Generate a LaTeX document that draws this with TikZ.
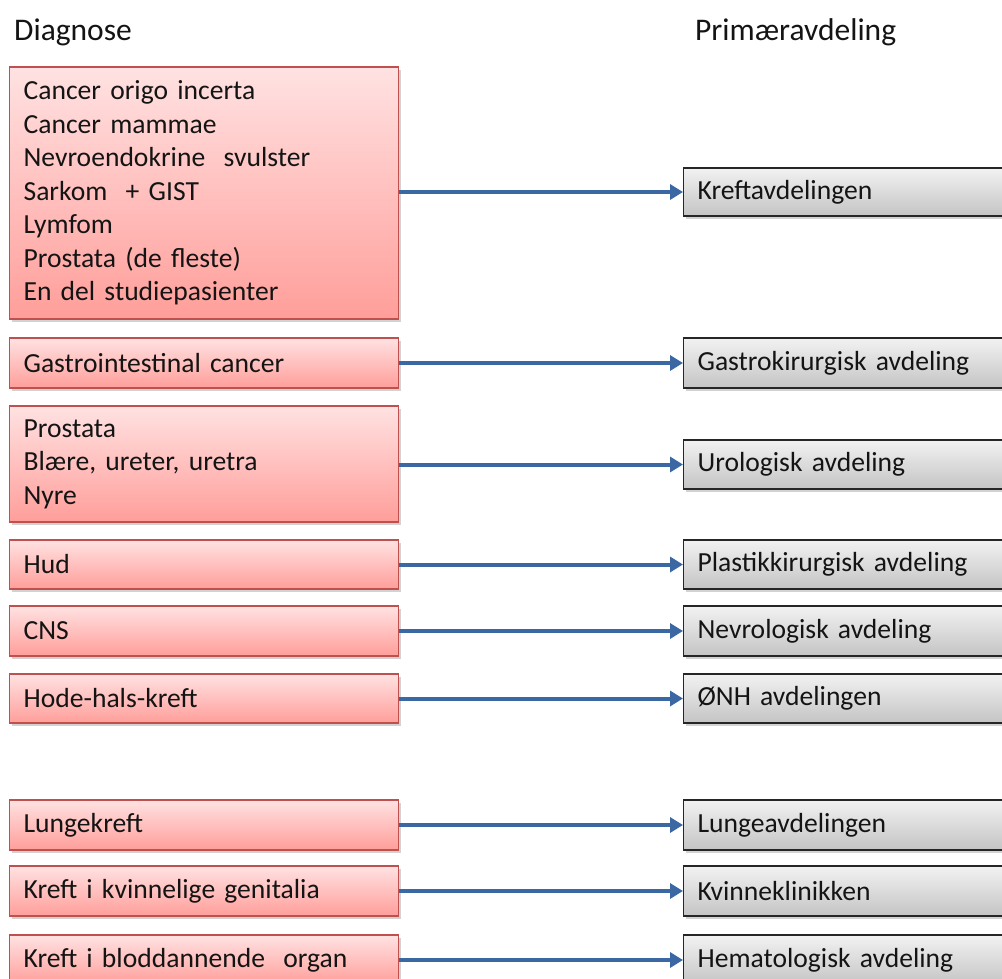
\documentclass[tikz,border=0pt]{standalone}
\usepackage{fontspec}
\setmainfont{Carlito}
\usetikzlibrary{arrows.meta,shadows}
\definecolor{pinktop}{HTML}{FFE2E2}
\definecolor{pinkbot}{HTML}{FF9E9A}
\definecolor{pinkline}{HTML}{C0504D}
\definecolor{graytop}{HTML}{F2F2F2}
\definecolor{graybot}{HTML}{C4C4C4}
\definecolor{arrblue}{HTML}{3B67A3}
\definecolor{txt}{HTML}{141414}
\tikzset{
  diag/.style={rectangle, draw=pinkline, line width=1.2pt, top color=pinktop, bottom color=pinkbot,
    minimum width=389pt, text width=361pt, inner xsep=14pt, inner ysep=0pt, align=left, anchor=west,
    text=txt, font=\fontsize{27.6}{33.5}\selectfont,
    drop shadow={shadow xshift=2pt, shadow yshift=-3pt, opacity=0.35}},
  dept/.style={rectangle, draw=black!85, line width=1.2pt, top color=graytop, bottom color=graybot,
    minimum width=340pt, text width=312pt, inner xsep=14pt, inner ysep=0pt, align=left, anchor=west,
    text=txt, font=\fontsize{27.6}{33.5}\selectfont,
    drop shadow={shadow xshift=2pt, shadow yshift=-3pt, opacity=0.35}},
  conn/.style={draw=arrblue, line width=4pt, -{Triangle[length=13pt,width=15pt]}},
  head/.style={anchor=base west, inner sep=0pt, text=txt, font=\fontsize{31.5}{36}\selectfont}
}
\begin{document}
\begin{tikzpicture}[x=1pt,y=-1pt]
\useasboundingbox (0,0) rectangle (1002,978);
\clip (0,0) rectangle (1002,978);
\fill[white] (0,0) rectangle (1002,978);
\node[head] (h1) at (14,40) {Diagnose};
\node[head] (h2) at (695,40) {Primæravdeling};

\node[diag, minimum height=252pt] (L1) at (9,193) {Cancer origo incerta\\Cancer mammae\\Nevroendokrine\ \ svulster\\Sarkom\ \ + GIST\\Lymfom\\Prostata (de fleste)\\En del studiepasienter};
\node[diag, minimum height=50pt] (L2) at (9,363) {Gastrointestinal cancer};
\node[diag, minimum height=116pt] (L3) at (9,464) {Prostata\\Blære, ureter, uretra\\Nyre};
\node[diag, minimum height=49pt] (L4) at (9,564.5) {Hud};
\node[diag, minimum height=50pt] (L5) at (9,631) {CNS};
\node[diag, minimum height=49pt] (L6) at (9,698.5) {Hode-hals-kreft};
\node[diag, minimum height=50pt] (L7) at (9,825) {Lungekreft};
\node[diag, minimum height=50pt] (L8) at (9,891) {Kreft\ i kvinnelige genitalia};
\node[diag, minimum height=50pt] (L9) at (9,960) {Kreft\ i bloddannende\ \ organ};

\node[dept, minimum height=48pt] (R1) at (683,192) {Kreftavdelingen};
\node[dept, minimum height=50pt] (R2) at (683,363) {Gastrokirurgisk\ avdeling};
\node[dept, minimum height=49pt] (R3) at (683,464.5) {Urologisk avdeling};
\node[dept, minimum height=49pt] (R4) at (683,564.5) {Plastikkirurgisk avdeling};
\node[dept, minimum height=50pt] (R5) at (683,631) {Nevrologisk avdeling};
\node[dept, minimum height=49pt] (R6) at (683,698.5) {ØNH avdelingen};
\node[dept, minimum height=50pt] (R7) at (683,825) {Lungeavdelingen};
\node[dept, minimum height=50pt] (R8) at (683,891) {Kvinneklinikken};
\node[dept, minimum height=50pt] (R9) at (683,960) {Hematologisk avdeling};

\draw[conn] (L1.east |- R1) -- (R1.west);
\foreach \i in {2,...,9} { \draw[conn] (L\i.east |- R\i) -- (R\i.west); }
\end{tikzpicture}
\end{document}
